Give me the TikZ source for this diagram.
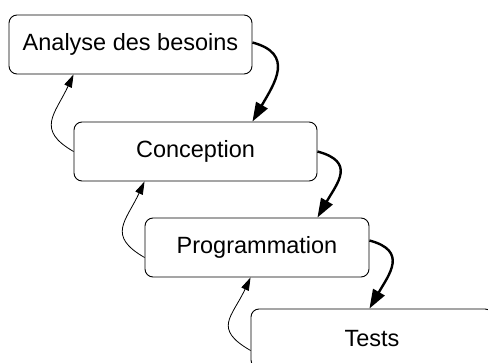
\documentclass[tikz,border=0pt]{standalone}
\usepackage{fontspec}
\setmainfont{Liberation Sans}
\usetikzlibrary{arrows.meta, positioning}

\begin{document}
\begin{tikzpicture}[
    x=1pt, y=1pt,
    phase/.style={draw, line width=0.9pt, rounded corners=8pt, minimum width=243pt, minimum height=59pt, font=\fontsize{23.5}{28}\selectfont},
    forward/.style={-{Triangle[length=19pt, width=13pt]}, line width=2.4pt},
    backward/.style={-{Triangle[length=13pt, width=8pt]}, line width=0.8pt}
  ]
  \useasboundingbox (0,0) rectangle (488,-363);
  \clip (0,0) rectangle (488,-363);

  % Phases, each one a step lower and to the right
  \node[phase] (analyse) at (130.5,-44.5) {Analyse des besoins};
  \node[phase] (conception) at (195.5,-151.5) {Conception};
  \node[phase, minimum width=224pt] (programmation) at (257,-247.5) {Programmation};
  \node[phase, minimum width=242pt] (tests) at (372,-338.5) {Tests};

  % Forward arrows: east side down onto the next phase
  \draw[forward] ([yshift=2pt]analyse.east) to[out=-15, in=60, distance=44pt] (analyse.east |- conception.north);
  \draw[forward] (conception.east) to[out=-15, in=60, distance=40pt] (conception.east |- programmation.north);
  \draw[forward] ([yshift=7pt]programmation.east) to[out=-15, in=60, distance=40pt] (programmation.east |- tests.north);

  % Backward arrows: west side back up to the previous phase
  \draw[backward] (conception.west) to[out=150, in=-115, distance=44pt] (conception.west |- analyse.south);
  \draw[backward] ([yshift=-10pt]programmation.west) to[out=150, in=-115, distance=44pt] (programmation.west |- conception.south);
  \draw[backward] ([yshift=-12pt]tests.west) to[out=150, in=-115, distance=44pt] (tests.west |- programmation.south);
\end{tikzpicture}
\end{document}
